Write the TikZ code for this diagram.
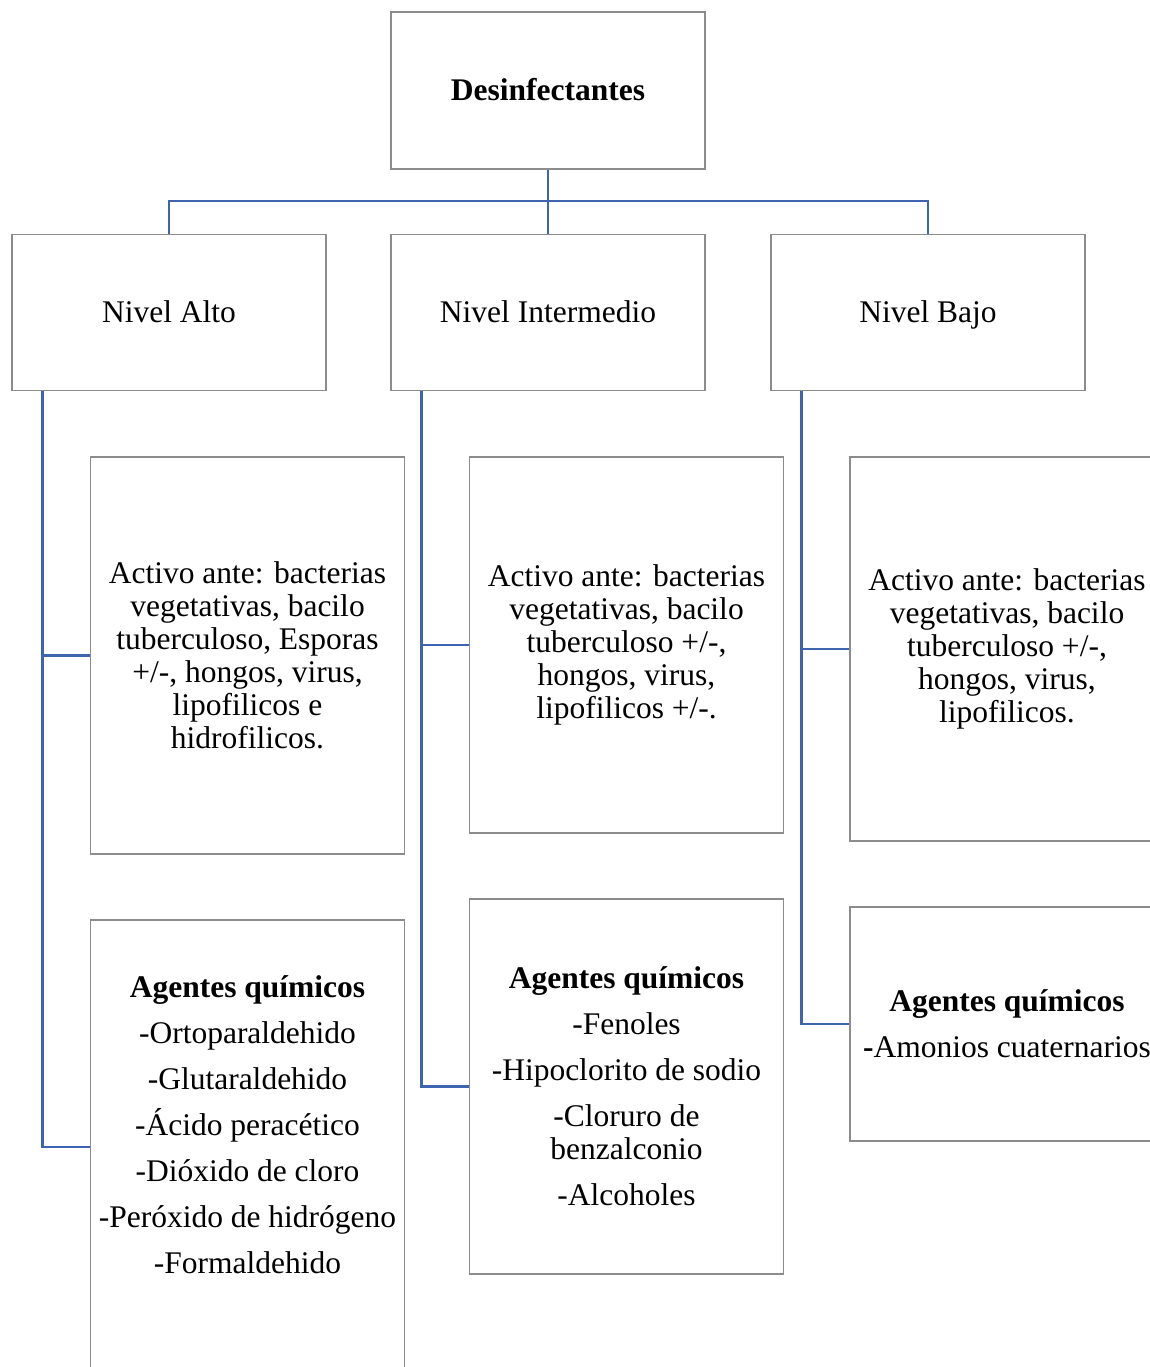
\documentclass[tikz,border=0pt]{standalone}
\usepackage{fontspec}
\setmainfont{Liberation Serif}
\definecolor{boxgray}{RGB}{140,140,140}
\definecolor{connblue}{RGB}{62,100,176}
\begin{document}
\begin{tikzpicture}[x=0.5pt,y=-0.5pt,
  box/.style={draw=boxgray, line width=0.7pt, fill=white, minimum width=157pt,
    inner sep=0pt, align=center, font=\fontsize{15.75pt}{16.5pt}\selectfont},
  onebox/.style={box, text height=13.3pt, text depth=3pt},
  txt/.style={inner sep=0pt, align=center, font=\fontsize{15.75pt}{16.5pt}\selectfont},
  conn/.style={draw=connblue, line width=1.25pt}]
\useasboundingbox (0,0) rectangle (1150,1367);
\clip (0,0) rectangle (1150,1367);

% top level
\node[onebox, minimum height=78.5pt] (des) at (548,90.5) {\textbf{Desinfectantes}};
\node[onebox, minimum height=78pt] (alto) at (169,312.5) {Nivel Alto};
\node[onebox, minimum height=78pt] (inter) at (548,312.5) {Nivel Intermedio};
\node[onebox, minimum height=78pt] (bajo) at (928,312.5) {Nivel Bajo};

% Alto column
\node[box, minimum height=198.5pt] (altoAct) at (247.5,655.5)
  {Activo ante: bacterias\\ vegetativas, bacilo\\ tuberculoso, Esporas\\ +/-, hongos, virus,\\ lipofilicos e\\ hidrofilicos.};
\node[box, minimum height=227pt] (altoAg) at (247.5,1147) {};
\node[txt] (altoAgTxt) at (247.5,1125)
  {\textbf{Agentes químicos}\\[6.5pt] -Ortoparaldehido\\[6.5pt] -Glutaraldehido\\[6.5pt] -Ácido peracético\\[6.5pt] -Dióxido de cloro\\[6.5pt] -Peróxido de hidrógeno\\[6.5pt] -Formaldehido};

% Intermedio column
\node[box, minimum height=188pt] (interAct) at (626.5,645)
  {Activo ante: bacterias\\ vegetativas, bacilo\\ tuberculoso +/-,\\ hongos, virus,\\ lipofilicos +/-.};
\node[box, minimum height=187.5pt] (interAg) at (626.5,1086.5)
  {\textbf{Agentes químicos}\\[6.5pt] -Fenoles\\[6.5pt] -Hipoclorito de sodio\\[6.5pt] -Cloruro de\\ benzalconio\\[6.5pt] -Alcoholes};

% Bajo column
\node[box, minimum height=192pt] (bajoAct) at (1007,649)
  {Activo ante: bacterias\\ vegetativas, bacilo\\ tuberculoso +/-,\\ hongos, virus,\\ lipofilicos.};
\node[box, minimum height=117pt] (bajoAg) at (1007,1024)
  {\textbf{Agentes químicos}\\[6.5pt] \textbf{-}Amonios cuaternarios};

% connectors
\coordinate (bar) at (548,201);
\draw[conn] (des.south) -- (inter.north);
\draw[conn] (alto.north) |- (bar) -| (bajo.north);

\draw[conn] ([xshift=15.5pt]alto.south west) |- (altoAct.west);
\draw[conn] ([xshift=15.5pt]alto.south west) |- (altoAg.west);
\draw[conn] ([xshift=15.5pt]inter.south west) |- (interAct.west);
\draw[conn] ([xshift=15.5pt]inter.south west) |- (interAg.west);
\draw[conn] ([xshift=15.5pt]bajo.south west) |- (bajoAct.west);
\draw[conn] ([xshift=15.5pt]bajo.south west) |- (bajoAg.west);
\end{tikzpicture}
\end{document}
